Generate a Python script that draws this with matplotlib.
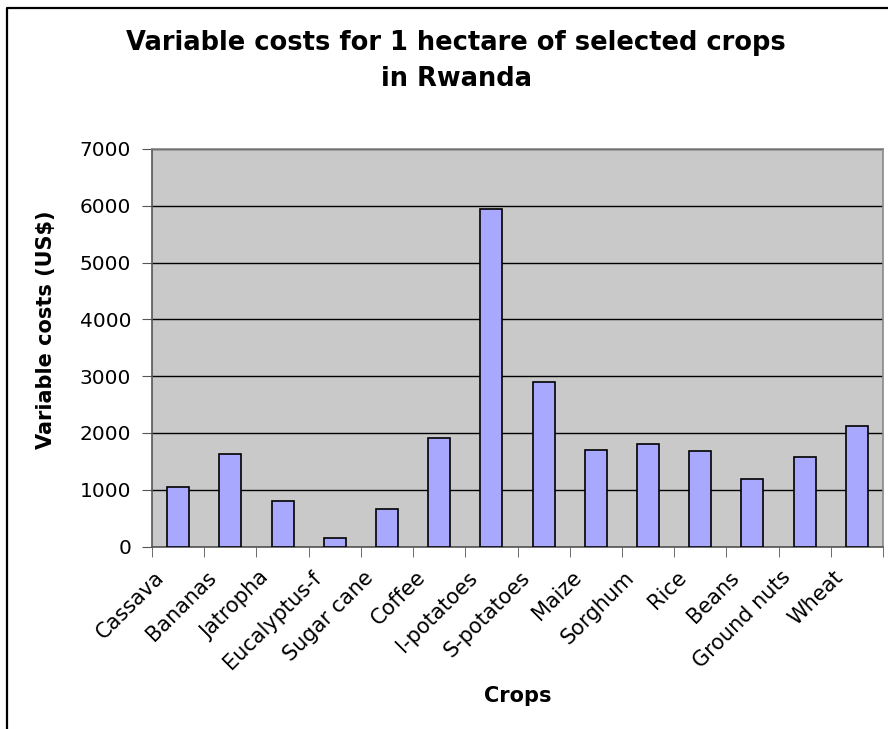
import matplotlib
matplotlib.use("Agg")
import matplotlib.pyplot as plt
from matplotlib.lines import Line2D
import matplotlib.transforms as mtransforms
import numpy as np

plt.rcParams['font.family'] = ['DejaVu Sans']

crops = ["Cassava", "Bananas", "Jatropha", "Eucalyptus-f", "Sugar cane", "Coffee",
         "I-potatoes", "S-potatoes", "Maize", "Sorghum", "Rice", "Beans",
         "Ground nuts", "Wheat"]
costs = [1050, 1630, 800, 155, 665, 1915, 5935, 2900, 1705, 1810, 1680, 1190, 1575, 2125]
yticks = [0, 1000, 2000, 3000, 4000, 5000, 6000, 7000]

W, H = 888, 729
fig = plt.figure(figsize=(W/100, H/100), dpi=100)
# outer frame (left and top edges visible)
fig.lines.append(Line2D([7/W, 7/W, 1.0], [0, 1 - 8/H, 1 - 8/H], transform=fig.transFigure,
                        color='black', linewidth=1.6))

ax = fig.add_axes([152/W, 1 - 546.5/H, (883-152)/W, (546.5-149)/H])
ax.set_facecolor('#C9C9C9')
x = np.arange(len(crops))
ax.bar(x, costs, width=0.42, color='#A8A8FF', edgecolor='black', linewidth=1.2, zorder=3)
ax.set_xlim(-0.5, len(crops) - 0.5)
ax.set_ylim(0, 7000)
ax.set_yticks(yticks)
ax.set_yticklabels([str(v) for v in yticks], fontsize=14.5)
ax.yaxis.grid(True, color='black', linewidth=1)
ax.set_axisbelow(True)
ax.tick_params(axis='y', direction='out', length=7, color='#555555', pad=8)

ax.set_xticks(x)
ax.set_xticklabels(crops, rotation=45, ha='right', va='center', rotation_mode='anchor', fontsize=15)
ax.tick_params(axis='x', which='major', length=0, pad=20)
offset = mtransforms.ScaledTranslation(-17/100, 0, fig.dpi_scale_trans)
for lbl in ax.get_xticklabels():
    lbl.set_transform(lbl.get_transform() + offset)
ax.set_xticks(np.arange(len(crops) + 1) - 0.5, minor=True)
ax.tick_params(axis='x', which='minor', direction='out', length=7, color='#555555')

for s in ['left', 'bottom']:
    ax.spines[s].set_color('#555555')
    ax.spines[s].set_linewidth(1.2)
for s in ['top', 'right']:
    ax.spines[s].set_color('#888888')
    ax.spines[s].set_linewidth(1.2)

fig.text(46/W, 1 - 330/H, "Variable costs (US$)", rotation=90, ha='center', va='center',
         fontsize=15, fontweight='bold')
fig.text(518/W, 1 - 696/H, "Crops", ha='center', va='center',
         fontsize=15, fontweight='bold')
fig.text(456/W, 1 - 61/H, "Variable costs for 1 hectare of selected crops\nin Rwanda",
         ha='center', va='center', fontsize=18.5, fontweight='bold', linespacing=1.45)

fig.savefig("out.png", dpi=100)
